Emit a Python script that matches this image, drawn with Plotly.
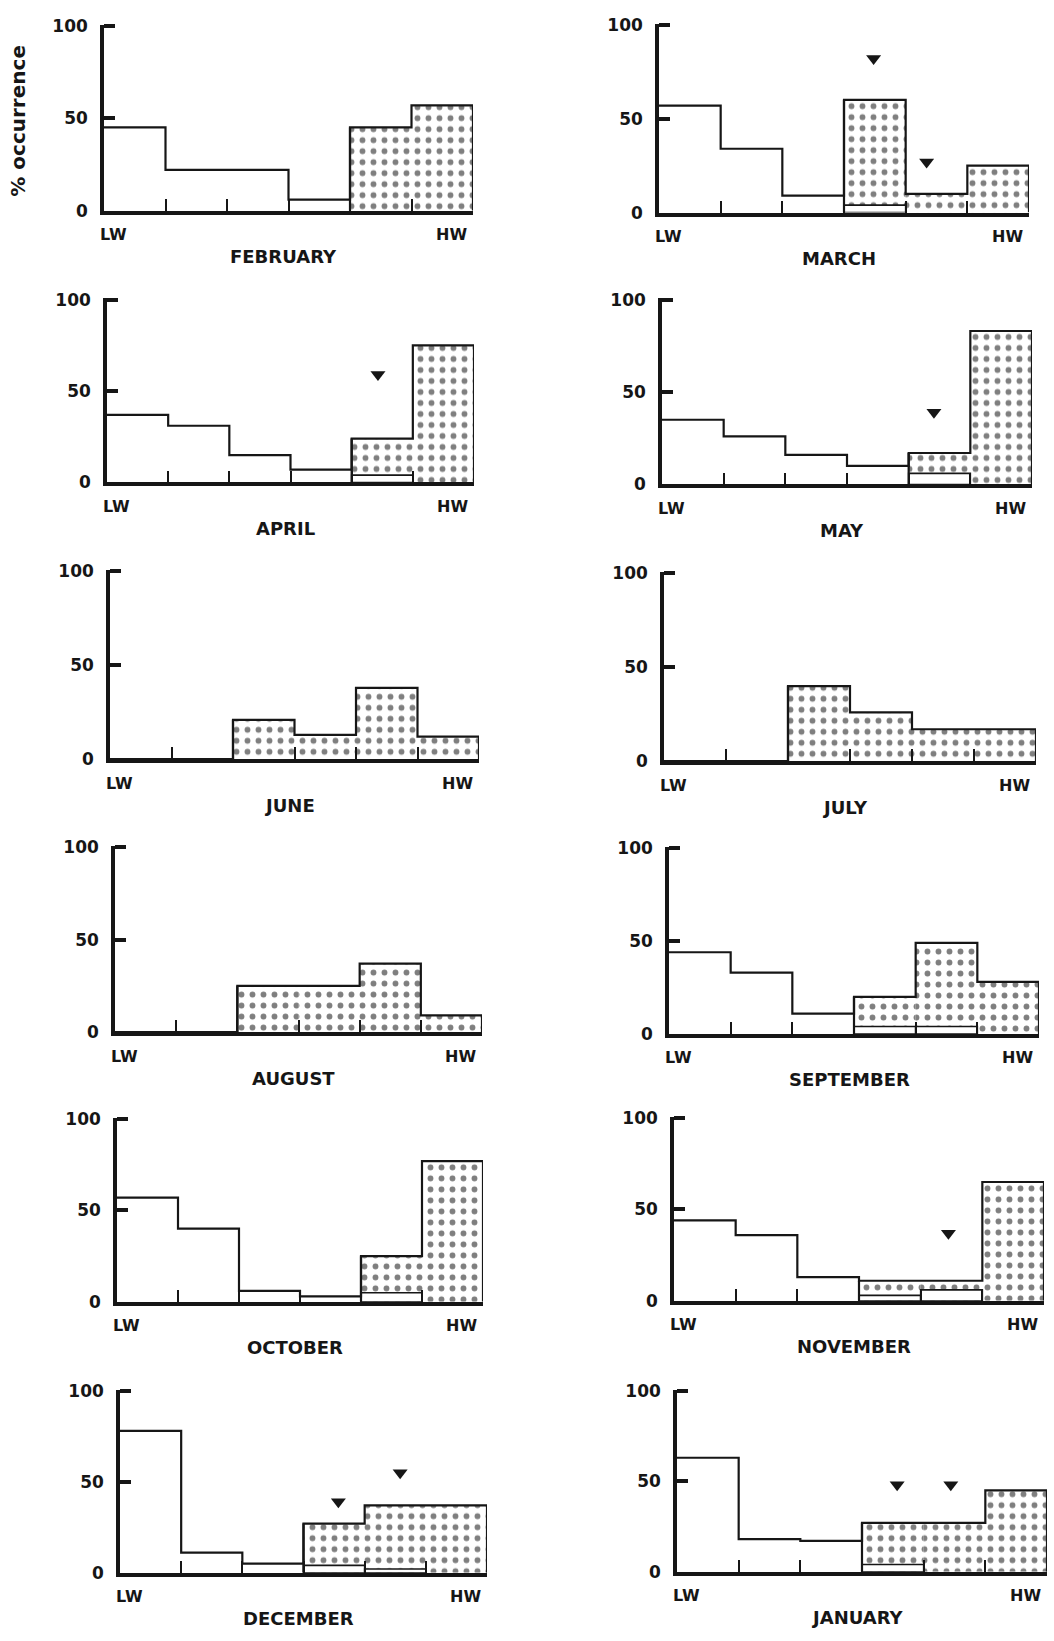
import plotly.graph_objects as go

# six water-level classes from low water (LW) to high water (HW)
classes = [0.5, 1.5, 2.5, 3.5, 4.5, 5.5]
edges = [0, 1, 2, 3, 4, 5, 6]

months = ["FEBRUARY", "MARCH", "APRIL", "MAY", "JUNE", "JULY",
          "AUGUST", "SEPTEMBER", "OCTOBER", "NOVEMBER", "DECEMBER", "JANUARY"]

# % occurrence in each class
february = [45, 22, 22, 6, 45, 57]
march = [57, 34, 9, 60, 10, 25]
april = [37, 31, 15, 7, 24, 75]
may = [35, 26, 16, 10, 17, 83]
june = [0, 0, 21, 13, 38, 12]
july = [0, 0, 40, 26, 17, 17]
august = [0, 0, 25, 25, 37, 9]
september = [44, 33, 11, 20, 49, 28]
october = [57, 40, 6, 3, 25, 77]
november = [44, 36, 13, 11, 11, 65]
december = [78, 11, 5, 27, 37, 37]
january = [63, 18, 17, 27, 27, 45]

# index of the first stippled class in each month
stipple_from = [4, 3, 4, 4, 2, 2, 2, 3, 4, 3, 3, 3]

# open (unstippled) part at the foot of the stippled classes
february_open = [0, 0, 0, 0, 0, 0]
march_open = [0, 0, 0, 4, 0, 0]
april_open = [0, 0, 0, 0, 4, 0]
may_open = [0, 0, 0, 0, 6, 0]
june_open = [0, 0, 0, 0, 0, 0]
july_open = [0, 0, 0, 0, 0, 0]
august_open = [0, 0, 0, 0, 0, 0]
september_open = [0, 0, 0, 4, 4, 0]
october_open = [0, 0, 0, 0, 5, 0]
november_open = [0, 0, 0, 3, 6, 0]
december_open = [0, 0, 0, 4, 2, 0]
january_open = [0, 0, 0, 4, 0, 0]

# triangle markers (class position, % level)
march_mark_x, march_mark_y = [3.48, 4.34], [82, 27]
april_mark_x, april_mark_y = [4.43], [59]
may_mark_x, may_mark_y = [4.41], [39]
november_mark_x, november_mark_y = [4.45], [37]
december_mark_x, december_mark_y = [3.57, 4.58], [39, 55]
january_mark_x, january_mark_y = [3.57, 4.44], [48, 48]

y_ticks = [0, 50, 100]
y_tick_text = ["0", "50", "100"]

totals = [february, march, april, may, june, july,
          august, september, october, november, december, january]
open_parts = [february_open, march_open, april_open, may_open, june_open, july_open,
              august_open, september_open, october_open, november_open,
              december_open, january_open]
marks = [([], []), (march_mark_x, march_mark_y), (april_mark_x, april_mark_y),
         (may_mark_x, may_mark_y), ([], []), ([], []), ([], []), ([], []), ([], []),
         (november_mark_x, november_mark_y), (december_mark_x, december_mark_y),
         (january_mark_x, january_mark_y)]

# panel frames in pixels: left, right, top (100 %), bottom (0 %)
W, H = 1054, 1641
left_px = [104, 659, 107, 662, 110, 664, 115, 669, 117, 674, 120, 677]
right_px = [473, 1029, 474, 1032, 479, 1036, 482, 1039, 483, 1044, 487, 1047]
top_px = [17, 16, 294, 294, 569, 571, 848, 849, 1123, 1122, 1398, 1398]
zero_px = [204, 206, 479, 481, 759, 761, 1035, 1037, 1308, 1307, 1582, 1581]
Y_TOP = 100.6  # a little headroom so the 100 tick is kept

INK = "#161616"
FONT = "DejaVu Sans"

fig = go.Figure()
layout = dict(
    width=W, height=H, autosize=False,
    margin=dict(l=0, r=0, t=0, b=0),
    paper_bgcolor="white", plot_bgcolor="white",
    barmode="overlay", showlegend=False,
    font=dict(family=FONT, color=INK),
)
annotations = []

for k, name in enumerate(months):
    sfx = "" if k == 0 else str(k + 1)
    xa, ya = "x" + sfx, "y" + sfx
    vals = totals[k]
    s = stipple_from[k]
    span = zero_px[k] - top_px[k]
    top_edge = zero_px[k] - span * Y_TOP / 100

    layout["xaxis" + sfx] = dict(
        domain=[left_px[k] / W, right_px[k] / W], range=[0, 6],
        anchor=ya, showgrid=False, zeroline=False,
        showline=True, linewidth=3.5, linecolor=INK,
        tickvals=edges[1:-1], ticks="inside", ticklen=12, tickwidth=2.4,
        tickcolor=INK, showticklabels=False, fixedrange=True,
    )
    layout["yaxis" + sfx] = dict(
        domain=[1 - zero_px[k] / H, 1 - top_edge / H], range=[0, Y_TOP],
        anchor=xa, showgrid=False, zeroline=False,
        showline=True, linewidth=3.5, linecolor=INK,
        tickvals=y_ticks, ticktext=y_tick_text, ticks="inside",
        ticklen=11, tickwidth=3.5, tickcolor=INK, ticklabelstandoff=9,
        tickfont=dict(family=FONT, size=17, color=INK, weight="bold"),
        fixedrange=True,
    )

    # stippled classes
    dotted = [v if i >= s else None for i, v in enumerate(vals)]
    fig.add_trace(go.Bar(
        x=classes, y=dotted, width=1, xaxis=xa, yaxis=ya,
        marker=dict(color="white", line=dict(width=0),
                    pattern=dict(shape=".", size=11, solidity=0.22,
                                 fgcolor="#000000", bgcolor="white")),
        hoverinfo="skip",
    ))

    # open part inside the stippled classes
    inner = open_parts[k]
    if any(inner):
        fig.add_trace(go.Bar(
            x=classes, y=[v if v else None for v in inner], width=1,
            xaxis=xa, yaxis=ya,
            marker=dict(color="white", line=dict(width=1.6, color=INK)),
            hoverinfo="skip",
        ))

    # histogram outline
    fig.add_trace(go.Scatter(
        x=edges + [6], y=vals + [vals[-1], 0], mode="lines",
        line=dict(color=INK, width=2.2, shape="hv"),
        xaxis=xa, yaxis=ya, hoverinfo="skip",
    ))
    # left edge of the stippled block
    fig.add_trace(go.Scatter(
        x=[edges[s], edges[s]], y=[0, vals[s]], mode="lines",
        line=dict(color=INK, width=2.2),
        xaxis=xa, yaxis=ya, hoverinfo="skip",
    ))

    mx, my = marks[k]
    if mx:
        fig.add_trace(go.Scatter(
            x=mx, y=my, mode="markers",
            marker=dict(symbol="triangle-down", size=13, color=INK),
            xaxis=xa, yaxis=ya, hoverinfo="skip",
        ))

    xd, yd = xa + " domain", ya + " domain"
    annotations.append(dict(text="LW", xref=xd, yref=yd, x=0, y=0,
                            xanchor="left", yanchor="middle", xshift=-6, yshift=-24,
                            showarrow=False,
                            font=dict(family=FONT, size=16, color=INK, weight="bold")))
    annotations.append(dict(text="HW", xref=xd, yref=yd, x=1, y=0,
                            xanchor="right", yanchor="middle", xshift=-4, yshift=-24,
                            showarrow=False,
                            font=dict(family=FONT, size=16, color=INK, weight="bold")))
    annotations.append(dict(text=name, xref=xd, yref=yd, x=0.5, y=0,
                            xanchor="center", yanchor="middle", xshift=-5, yshift=-46,
                            showarrow=False,
                            font=dict(family=FONT, size=18, color=INK, weight="bold")))

annotations.append(dict(text="% occurrence", xref="paper", yref="paper",
                        x=18 / W, y=1 - 113 / H, textangle=-90,
                        xanchor="center", yanchor="middle", showarrow=False,
                        font=dict(family=FONT, size=20, color=INK, weight="bold")))

layout["annotations"] = annotations
fig.update_layout(**layout)
fig.write_html("out.html")
